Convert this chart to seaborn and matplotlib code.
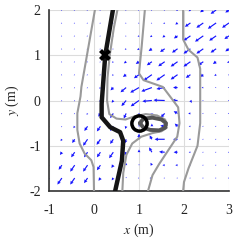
import numpy as np
import pandas as pd
import seaborn as sns
import matplotlib
matplotlib.use("Agg")
import matplotlib.pyplot as plt

# ---------------- data ----------------
x_grid = [-1.0, -0.714, -0.429, -0.143, 0.143, 0.429, 0.714, 1.0, 1.286, 1.571, 1.857, 2.143, 2.429, 2.714, 3.0]
y_grid = [2.0, 1.714, 1.429, 1.143, 0.857, 0.571, 0.286, 0.0, -0.286, -0.571, -0.857, -1.143, -1.429, -1.714, -2.0]

# arrow magnitudes (m) per row (top -> bottom), per column (left -> right)
mag = [
    [0.02,0.02,0.02,0.02,0.02,0.02,0.02,0.02,0.02,0.02,0.03,0.04,0.07,0.12,0.08],
    [0.02,0.02,0.02,0.02,0.02,0.02,0.02,0.02,0.02,0.03,0.05,0.12,0.15,0.18,0.15],
    [0.02,0.02,0.02,0.02,0.02,0.02,0.02,0.03,0.04,0.05,0.08,0.15,0.18,0.15,0.10],
    [0.02,0.02,0.02,0.02,0.02,0.02,0.03,0.04,0.07,0.10,0.12,0.15,0.15,0.12,0.08],
    [0.02,0.02,0.02,0.02,0.02,0.03,0.05,0.07,0.11,0.14,0.15,0.15,0.11,0.07,0.04],
    [0.02,0.02,0.02,0.02,0.02,0.03,0.07,0.11,0.18,0.18,0.15,0.10,0.07,0.04,0.02],
    [0.02,0.02,0.02,0.02,0.03,0.07,0.13,0.18,0.20,0.15,0.08,0.05,0.03,0.02,0.02],
    [0.02,0.02,0.02,0.02,0.03,0.05,0.13,0.18,0.17,0.20,0.10,0.05,0.02,0.02,0.02],
    [0.02,0.02,0.02,0.03,0.07,0.10,0.10,0.04,0.05,0.10,0.08,0.04,0.02,0.02,0.02],
    [0.02,0.02,0.04,0.10,0.11,0.10,0.05,0.03,0.05,0.08,0.07,0.03,0.02,0.02,0.02],
    [0.02,0.04,0.08,0.14,0.12,0.10,0.08,0.10,0.08,0.18,0.08,0.03,0.02,0.02,0.02],
    [0.02,0.06,0.11,0.11,0.11,0.13,0.06,0.05,0.10,0.10,0.07,0.03,0.02,0.02,0.02],
    [0.03,0.10,0.14,0.14,0.11,0.06,0.04,0.02,0.05,0.04,0.04,0.02,0.02,0.02,0.02],
    [0.04,0.14,0.14,0.11,0.06,0.05,0.02,0.02,0.04,0.02,0.02,0.02,0.02,0.02,0.02],
    [0.04,0.10,0.10,0.08,0.05,0.03,0.02,0.02,0.02,0.02,0.02,0.02,0.02,0.02,0.02],
]
# arrow directions (degrees, counter-clockwise from +x)
ang = [
    [215]*15,
    [215]*15,
    [215]*15,
    [215]*15,
    [215]*15,
    [215]*15,
    [225,225,225,225,225,225,220,210,200,190,180,180,190,190,190],
    [225,225,225,225,225,235,230,215,185,178,178,300,200,200,200],
    [225,225,225,235,235,235,245,270,270,225,150,180,180,180,180],
    [235,235,235,235,235,235,250,90,90,170,135,180,180,180,180],
    [235,235,235,235,235,235,250,90,120,180,180,180,180,180,180],
    [235,235,235,235,235,235,245,90,120,175,180,180,180,180,180],
    [235,235,235,235,235,235,90,90,120,180,180,180,180,180,180],
    [235,235,235,235,235,235,90,180,180,180,180,180,180,180,180],
    [235,235,235,235,235,235,180,180,180,180,180,180,180,180,180],
]

# trajectories (gray)
line_a_x = [0.02, -0.13, -0.28, -0.30, -0.37, -0.37, -0.32, -0.21, -0.06, -0.01, 0.0]
line_a_y = [2.0, 1.15, 0.30, 0.09, -0.28, -0.65, -0.95, -1.17, -1.32, -1.47, -2.0]
line_c_x = [0.52, 0.44, 0.35, 0.30, 0.29, 0.34, 0.50, 0.70, 0.90, 1.15, 1.40, 1.58, 1.62]
line_c_y = [2.0, 1.6, 1.0, 0.5, 0.0, -0.3, -0.40, -0.42, -0.35, -0.30, -0.33, -0.42, -0.55]
line_d_x = [1.13, 1.06, 1.00, 1.10, 1.30, 1.53, 1.72, 1.87, 1.90, 1.85, 1.65, 1.45, 1.30, 1.20]
line_d_y = [2.0, 1.2, 0.60, 0.45, 0.38, 0.30, 0.05, -0.15, -0.50, -0.80, -1.10, -1.40, -1.65, -2.0]
line_e_x = [0.63, 0.65, 0.72, 0.85, 1.05, 1.30, 1.50, 1.62]
line_e_y = [-2.0, -1.6, -1.2, -0.95, -0.80, -0.72, -0.68, -0.60]
line_f_x = [1.98, 1.98, 2.10, 2.30, 2.36, 2.36, 2.30, 2.10, 2.00, 1.98]
line_f_y = [2.0, 1.35, 1.12, 0.95, 0.70, -0.50, -1.00, -1.50, -1.80, -2.0]
loop_x = [1.02, 1.10, 1.30, 1.50, 1.60, 1.58, 1.45, 1.25, 1.10, 1.02]
loop_y = [-0.50, -0.40, -0.38, -0.42, -0.50, -0.60, -0.66, -0.65, -0.60, -0.50]
# main trajectory (black)
traj_x = [0.42, 0.25, 0.17, 0.17, 0.36, 0.58, 0.65, 0.62, 0.47]
traj_y = [2.0, 1.0, -0.07, -0.37, -0.59, -0.70, -0.89, -1.33, -2.0]
start_pt = (0.25, 1.0)
goal_pt = (1.0, -0.5)

xticks = [-1, 0, 1, 2, 3]
yticks = [-2, -1, 0, 1, 2]

# ---------------- plotting ----------------
sns.set_theme(style="white")
plt.rcParams["font.family"] = ["Liberation Serif", "DejaVu Serif"]
plt.rcParams["mathtext.fontset"] = "stix"

fig = plt.figure(figsize=(2.40, 2.42), dpi=100)
ax = fig.add_axes([49/240, 51/242, 180/240, 181/242])

X, Y = np.meshgrid(x_grid, y_grid)
M = np.array(mag)
A = np.deg2rad(np.array(ang, dtype=float))
U = M * np.cos(A)
V = M * np.sin(A)
ax.quiver(X, Y, U, V, color="#1414ff", angles="xy", scale_units="xy", scale=0.8,
          width=0.0065, headwidth=3, headlength=3, headaxislength=2.7,
          minlength=0.8, zorder=2)

gray = "#9a9a9a"
for lx, ly in [(line_a_x, line_a_y), (line_c_x, line_c_y), (line_d_x, line_d_y),
               (line_e_x, line_e_y), (line_f_x, line_f_y)]:
    sns.lineplot(x=lx, y=ly, sort=False, estimator=None, color=gray, lw=1.5, ax=ax, zorder=3)
sns.lineplot(x=loop_x, y=loop_y, sort=False, estimator=None, color="#555555", lw=2.8, ax=ax, zorder=4)
sns.lineplot(x=traj_x, y=traj_y, sort=False, estimator=None, color="#151515", lw=3.2, ax=ax, zorder=5)
ax.plot([start_pt[0]], [start_pt[1]], marker="X", ms=9, color="black", mew=0, zorder=6)
ax.plot([goal_pt[0]], [goal_pt[1]], marker="o", ms=11, mfc="none", mec="black", mew=2.5, zorder=6)

ax.set_xlim(-1, 3)
ax.set_ylim(-2, 2)
ax.set_xticks(xticks)
ax.set_yticks(yticks)
ax.set_xticklabels([str(t) for t in xticks])
ax.set_yticklabels([str(t) for t in yticks])
ax.grid(True, color="#dcdcdc", lw=0.8)
ax.set_axisbelow(True)
for s in ["top", "right"]:
    ax.spines[s].set_visible(False)
for s in ["left", "bottom"]:
    ax.spines[s].set_color("#333333")
    ax.spines[s].set_linewidth(1.2)
ax.tick_params(axis="x", labelsize=10, colors="#222222", length=0, pad=9)
ax.tick_params(axis="y", labelsize=10, colors="#222222", length=0, pad=6)
ax.set_xlabel("$x$ (m)", fontsize=10, labelpad=4)
ax.set_ylabel("$y$ (m)", fontsize=10, labelpad=6)

fig.savefig("out.png", dpi=100)
